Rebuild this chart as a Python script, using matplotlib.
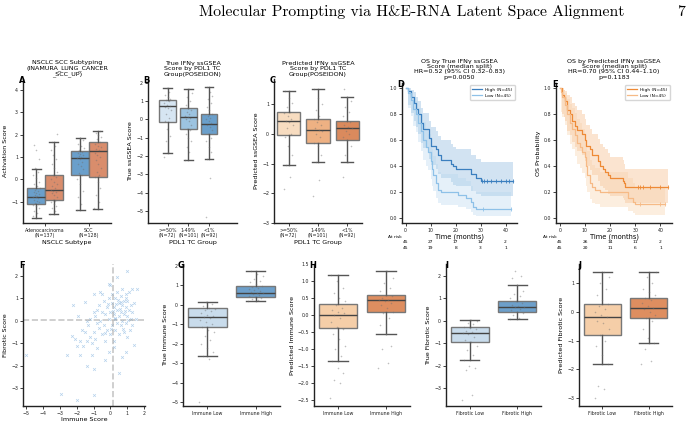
import numpy as np
import matplotlib
matplotlib.use("Agg")
from matplotlib import pyplot as plt
from matplotlib import transforms
from matplotlib.lines import Line2D

W, H = 691, 426

# ---- box summaries (whislo, q1, med, q3, whishi) ----
a_groups = ["Adenocarcinoma\n(N=137)", "SCC\n(N=128)"]
a_true_stats = [(-1.71, -1.08, -0.79, -0.39, 0.49), (-1.37, 0.21, 0.95, 1.29, 1.87)]
a_pred_stats = [(-1.56, -0.94, -0.46, 0.19, 1.69), (-1.31, 0.13, 1.29, 1.69, 2.18)]
a_true_pts = [
    [-1.65, -1.5, -1.4, -1.3, -1.2, -1.15, -1.1, -1.05, -1.0, -0.95, -0.9, -0.85, -0.8, -0.8, -0.75, -0.7,
     -0.65, -0.6, -0.55, -0.5, -0.45, -0.4, -0.3, -0.2, -0.1, 0.05, 0.2, 0.35, 0.5, 0.9, 1.3, 1.55],
    [-1.35, -1.1, -0.8, -0.5, -0.2, 0.0, 0.2, 0.3, 0.45, 0.6, 0.7, 0.8, 0.9, 0.95, 1.0, 1.05, 1.1, 1.15,
     1.2, 1.25, 1.3, 1.4, 1.5, 1.6, 1.75, 1.87],
]
a_pred_pts = [
    [-1.55, -1.4, -1.3, -1.2, -1.1, -1.0, -0.95, -0.9, -0.8, -0.7, -0.6, -0.55, -0.5, -0.45, -0.4, -0.3,
     -0.2, -0.1, 0.0, 0.1, 0.2, 0.35, 0.5, 0.7, 0.9, 1.1, 1.3, 1.5, 1.7, 2.05],
    [-1.3, -1.0, -0.7, -0.4, -0.1, 0.1, 0.2, 0.35, 0.5, 0.7, 0.85, 1.0, 1.1, 1.2, 1.3, 1.35, 1.45, 1.5,
     1.6, 1.7, 1.8, 1.9, 2.0, 2.1, 2.18],
]

pdl1_groups = [">=50%\n(N=72)", "1-49%\n(N=101)", "<1%\n(N=92)"]
b_stats = [(-1.83, -0.12, 0.72, 1.05, 1.7), (-2.2, -0.55, 0.15, 0.6, 1.65), (-2.15, -0.8, -0.25, 0.3, 1.75)]
b_pts = [
    [-2.05, -1.8, -1.2, -0.9, -0.5, -0.1, 0.1, 0.3, 0.5, 0.6, 0.7, 0.75, 0.8, 0.9, 1.0, 1.05, 1.1, 1.2,
     1.35, 1.5, 1.7],
    [-2.2, -1.8, -1.5, -1.2, -1.0, -0.8, -0.6, -0.5, -0.3, -0.1, 0.0, 0.1, 0.15, 0.2, 0.3, 0.4, 0.5, 0.6,
     0.8, 1.0, 1.2, 1.45, 1.65],
    [-5.3, -3.2, -2.15, -1.8, -1.5, -1.2, -1.0, -0.8, -0.6, -0.4, -0.3, -0.2, -0.1, 0.0, 0.1, 0.2, 0.3,
     0.5, 0.7, 0.9, 1.1, 1.3, 1.5, 1.75],
]
c_stats = [(-1.05, -0.05, 0.45, 0.75, 1.45), (-0.95, -0.3, 0.12, 0.5, 1.5), (-0.95, -0.2, 0.2, 0.45, 1.25)]
c_pts = [
    [-1.85, -1.45, -1.05, -0.7, -0.4, -0.1, 0.0, 0.2, 0.3, 0.4, 0.45, 0.5, 0.6, 0.7, 0.75, 0.9, 1.05, 1.2, 1.45],
    [-2.1, -1.55, -0.95, -0.7, -0.4, -0.3, -0.1, 0.0, 0.1, 0.12, 0.2, 0.3, 0.4, 0.5, 0.6, 0.8, 1.0, 1.2, 1.5],
    [-1.45, -0.95, -0.7, -0.4, -0.2, -0.1, 0.0, 0.1, 0.2, 0.25, 0.3, 0.4, 0.45, 0.6, 0.75, 0.9, 1.1, 1.25, 1.5],
]

immune_groups = ["Immune Low", "Immune High"]
fibrotic_groups = ["Fibrotic Low", "Fibrotic High"]
g_stats = [(-2.65, -1.15, -0.6, -0.15, 0.15), (0.18, 0.42, 0.62, 0.97, 1.75)]
g_pts = [
    [-5.0, -2.8, -2.65, -2.4, -2.2, -2.0, -1.8, -1.6, -1.4, -1.3, -1.15, -1.0, -0.9, -0.8, -0.7, -0.6,
     -0.55, -0.5, -0.4, -0.3, -0.25, -0.2, -0.15, -0.05, 0.05, 0.15],
    [0.18, 0.25, 0.3, 0.35, 0.4, 0.45, 0.5, 0.55, 0.6, 0.62, 0.65, 0.7, 0.75, 0.8, 0.85, 0.9, 0.95, 1.05,
     1.15, 1.25, 1.35, 1.5, 1.6, 1.75],
]
h_stats = [(-1.35, -0.38, 0.0, 0.32, 1.18), (-0.55, 0.08, 0.43, 0.6, 1.28)]
h_pts = [
    [-2.45, -2.0, -1.9, -1.7, -1.55, -1.35, -1.2, -1.0, -0.9, -0.7, -0.55, -0.4, -0.35, -0.2, -0.1, 0.0,
     0.05, 0.1, 0.15, 0.2, 0.3, 0.4, 0.5, 0.65, 0.8, 1.0, 1.18],
    [-1.55, -1.4, -1.0, -0.9, -0.55, -0.3, -0.1, 0.05, 0.1, 0.2, 0.3, 0.35, 0.4, 0.43, 0.45, 0.5, 0.55,
     0.6, 0.7, 0.8, 0.95, 1.1, 1.28],
]
i_stats = [(-1.75, -0.95, -0.55, -0.25, 0.05), (0.08, 0.38, 0.62, 0.88, 1.6)]
i_pts = [
    [-3.5, -3.3, -2.2, -2.1, -2.0, -1.75, -1.5, -1.3, -1.1, -0.95, -0.85, -0.7, -0.6, -0.55, -0.5, -0.45,
     -0.35, -0.3, -0.25, -0.15, -0.1, 0.0, 0.05],
    [0.08, 0.15, 0.25, 0.35, 0.4, 0.5, 0.55, 0.6, 0.62, 0.65, 0.7, 0.8, 0.9, 1.0, 1.1, 1.2, 1.35, 1.6,
     1.9, 2.0, 2.2],
]
j_stats = [(-1.82, -0.82, -0.18, 0.27, 1.38), (-1.1, -0.22, 0.15, 0.48, 1.4)]
j_pts = [
    [-3.0, -2.7, -2.6, -1.82, -1.5, -1.2, -1.0, -0.82, -0.6, -0.4, -0.3, -0.18, -0.1, 0.0, 0.1, 0.2,
     0.27, 0.4, 0.6, 0.8, 1.0, 1.2, 1.38],
    [-1.8, -1.7, -1.3, -1.1, -0.9, -0.6, -0.3, -0.22, -0.1, 0.0, 0.1, 0.15, 0.2, 0.3, 0.4, 0.48, 0.6,
     0.7, 0.8, 1.0, 1.2, 1.4],
]

# ---- scatter F ----
immune_score = [-5.0, -2.9, -2.0, -1.0, -1.0, -1.4, 1.0, 0.4, -2.2, 0.5, -0.1, 0.0, -2.6, -1.8, -1.1, 0.9,
                -0.3, -0.1, 0.7, -2.3, -2.1, -2.0, -1.9, -1.8, -1.7, -1.6, -1.5, -1.5, -1.4, -1.3, -1.2,
                -1.2, -1.1, -1.0, -1.0, -1.0, -0.9, -0.9, -0.8, -0.8, -0.7, -0.7, -0.6, -0.6, -0.5, -0.5,
                -0.4, -0.4, -0.3, -0.3, -0.2, -0.2, -0.1, -0.1, 0.0, 0.0, 0.1, 0.1, 0.1, 0.2, 0.2, 0.2,
                0.3, 0.3, 0.3, 0.4, 0.4, 0.4, 0.5, 0.5, 0.5, 0.6, 0.6, 0.6, 0.7, 0.7, 0.7, 0.8, 0.8, 0.8,
                0.9, 0.9, 0.9, 1.0, 1.0, 1.0, 1.1, 1.1, 1.2, 1.2, 1.3, 1.3, 1.3, 1.4, 1.5, 1.6, 1.4, 0.2,
                -0.5, -1.4, -0.8, 0.35, 0.15, 0.55, 0.25, -0.15, 0.45, 0.65, 0.85, 0.05, -0.35, 0.75,
                1.05, 1.15, 0.95]
fibrotic_score = [-1.5, -3.25, -3.5, -3.3, -2.15, -2.0, 2.2, 1.95, 0.7, -2.3, 1.65, 1.6, -1.5, -1.5, -1.5,
                  -1.4, -1.75, -1.4, -1.6, -0.65, -0.8, -1.1, 0.2, -0.9, -0.4, -1.1, 0.85, -0.5, -0.9,
                  -0.2, 0.1, -0.7, -1.0, 1.2, 0.4, -0.5, 0.2, -0.8, -1.2, 0.5, 0.7, -0.3, 1.3, 0.0, -0.6,
                  0.4, 0.9, -0.2, 0.3, -0.9, 0.6, -0.4, 0.1, 1.0, -0.6, 0.4, 0.8, -0.2, 1.2, 0.3, -0.9,
                  0.6, 1.0, 0.1, -0.4, 0.5, 1.3, -0.1, 0.8, 0.2, -0.6, 1.1, 0.4, -0.2, 0.7, 0.0, 1.4, 0.3,
                  0.9, -0.5, 0.6, 1.2, -0.1, 0.2, 0.9, -0.7, 0.5, 1.3, 0.1, 0.7, -0.2, 0.4, 1.4, 0.8, 0.1,
                  1.4, -1.05, -1.15, 1.2, 0.0, -0.1, 0.75, 0.45, 0.55, 0.15, 0.75, 0.95, 0.85, 0.45,
                  -0.35, -0.55, -0.35, 0.05, -0.4, 1.0]
immune_median = 0.18
fibrotic_median = 0.05

# ---- Kaplan-Meier (time, survival, ci low, ci high) ----
d_high_t = [0, 1, 2, 3.5, 4, 5, 6, 7, 9.5, 10, 12, 13, 14, 18, 19, 20, 26, 28, 30, 43]
d_high_s = [1.0, 0.98, 0.93, 0.89, 0.84, 0.80, 0.73, 0.69, 0.62, 0.56, 0.53, 0.49, 0.45, 0.42, 0.40, 0.38,
            0.34, 0.31, 0.29, 0.29]
d_high_lo = [1.0, 0.87, 0.81, 0.75, 0.70, 0.65, 0.58, 0.54, 0.46, 0.41, 0.38, 0.34, 0.31, 0.28, 0.26, 0.25,
             0.21, 0.19, 0.17, 0.17]
d_high_hi = [1.0, 1.0, 0.99, 0.97, 0.93, 0.90, 0.85, 0.81, 0.75, 0.70, 0.67, 0.63, 0.60, 0.57, 0.55, 0.53,
             0.49, 0.46, 0.43, 0.43]
d_high_cens = [30.5, 31.5, 32.5, 34, 36, 38, 40, 41.5, 43]
d_low_t = [0, 1, 2, 3, 4, 5, 6, 7, 8, 9, 10, 10.5, 11, 12, 13, 14, 21, 24, 26, 27, 28, 42]
d_low_s = [1.0, 0.96, 0.91, 0.84, 0.80, 0.73, 0.67, 0.60, 0.55, 0.51, 0.44, 0.38, 0.33, 0.27, 0.22, 0.20,
           0.18, 0.16, 0.13, 0.09, 0.07, 0.07]
d_low_lo = [1.0, 0.85, 0.79, 0.71, 0.66, 0.59, 0.52, 0.45, 0.40, 0.37, 0.30, 0.25, 0.21, 0.16, 0.12, 0.10,
            0.09, 0.07, 0.05, 0.03, 0.02, 0.02]
d_low_hi = [1.0, 0.99, 0.97, 0.93, 0.90, 0.85, 0.80, 0.74, 0.69, 0.65, 0.59, 0.53, 0.48, 0.42, 0.36, 0.34,
            0.31, 0.29, 0.25, 0.21, 0.20, 0.20]
d_low_cens = [31, 42]

e_high_t = [0, 1, 1.5, 2, 3, 4, 5, 6, 7, 9, 10, 10.5, 12, 13, 15, 16, 17, 18, 19, 20, 25, 25.5, 26, 43]
e_high_s = [1.0, 0.95, 0.93, 0.90, 0.83, 0.80, 0.75, 0.71, 0.68, 0.65, 0.60, 0.56, 0.53, 0.49, 0.44, 0.40,
            0.38, 0.36, 0.33, 0.31, 0.29, 0.27, 0.245, 0.245]
e_high_lo = [1.0, 0.80, 0.78, 0.75, 0.67, 0.64, 0.59, 0.55, 0.52, 0.49, 0.44, 0.40, 0.37, 0.33, 0.29, 0.25,
             0.23, 0.22, 0.19, 0.17, 0.16, 0.14, 0.12, 0.12]
e_high_hi = [1.0, 1.0, 0.99, 0.98, 0.95, 0.93, 0.89, 0.86, 0.83, 0.80, 0.76, 0.72, 0.69, 0.65, 0.61, 0.57,
             0.55, 0.53, 0.50, 0.47, 0.45, 0.42, 0.38, 0.38]
e_high_cens = [31, 32, 33, 36, 40, 43]
e_low_t = [0, 0.5, 1, 2, 3, 4, 5, 6, 7, 8, 9, 10, 10.5, 11, 12, 13, 14, 16, 27, 29, 30, 42]
e_low_s = [1.0, 0.97, 0.93, 0.87, 0.80, 0.73, 0.69, 0.64, 0.58, 0.55, 0.51, 0.47, 0.40, 0.33, 0.27, 0.24,
           0.22, 0.20, 0.16, 0.13, 0.11, 0.11]
e_low_lo = [1.0, 0.82, 0.78, 0.72, 0.64, 0.57, 0.53, 0.48, 0.42, 0.39, 0.35, 0.31, 0.25, 0.20, 0.15, 0.12,
            0.11, 0.09, 0.06, 0.04, 0.03, 0.03]
e_low_hi = [1.0, 1.0, 0.99, 0.96, 0.92, 0.88, 0.85, 0.81, 0.76, 0.73, 0.69, 0.65, 0.59, 0.52, 0.45, 0.41,
            0.39, 0.36, 0.31, 0.27, 0.24, 0.24]
e_low_cens = [32, 40, 42]

at_risk_ticks = [0, 10, 20, 30, 40]
d_at_risk = [[45, 27, 17, 14, 2], [45, 19, 8, 3, 1]]
e_at_risk = [[45, 26, 14, 11, 2], [45, 20, 11, 6, 1]]

plt.rcParams["font.family"] = "DejaVu Sans"
plt.rcParams["axes.unicode_minus"] = True

fig = plt.figure(figsize=(W / 100, H / 100), dpi=100)
fig.patch.set_facecolor("white")


def px_axes(l, t, r, b):
    return fig.add_axes([l / W, 1 - b / H, (r - l) / W, (b - t) / H])


def style_axes(ax, letter):
    for s in ("top", "right"):
        ax.spines[s].set_visible(False)
    for s in ("left", "bottom"):
        ax.spines[s].set_linewidth(1.0)
        ax.spines[s].set_color("#222222")
    ax.tick_params(labelsize=3.4, length=2, width=0.6, pad=1.5, colors="#222222")
    pos = ax.get_position()
    fig.text(pos.x0 + 2 / W, pos.y1 - 1.5 / H, letter, fontsize=6, fontweight="bold",
             ha="right", va="center")


def draw_boxes(ax, stats, positions, width, colors, points, jitter):
    bx = [dict(whislo=s[0], q1=s[1], med=s[2], q3=s[3], whishi=s[4]) for s in stats]
    art = ax.bxp(bx, positions=positions, widths=width, patch_artist=True, showfliers=False,
                 boxprops=dict(edgecolor="#777777", linewidth=1.0),
                 medianprops=dict(color="#444444", linewidth=1.0),
                 whiskerprops=dict(color="#555555", linewidth=1.0),
                 capprops=dict(color="#555555", linewidth=1.0), manage_ticks=False)
    for patch, c in zip(art["boxes"], colors):
        patch.set_facecolor(c)
    for p, vals in zip(positions, points):
        off = ((np.arange(len(vals)) * 0.618034) % 1 - 0.5) * jitter
        ax.scatter(p + off, vals, s=1.3, color="#707070", alpha=0.45, linewidths=0, zorder=5)


def box_panel(box, letter, stats, pts, colors, labels, ylabel, ylim, title=None, xlabel=None,
              xlim=(-0.5, None)):
    ax = px_axes(*box)
    n = len(stats)
    draw_boxes(ax, stats, list(range(n)), 0.8, colors, pts, 0.32)
    ax.set_xticks(range(n))
    ax.set_xticklabels(labels, fontsize=3.2, linespacing=1.1)
    ax.set_xlim(xlim[0], xlim[1] if xlim[1] is not None else n - 0.5)
    ax.set_ylim(*ylim)
    ax.set_ylabel(ylabel, fontsize=4.6, labelpad=2)
    if xlabel:
        ax.set_xlabel(xlabel, fontsize=4.6, labelpad=1)
    if title:
        ax.set_title(title, fontsize=4.6, pad=2.5, linespacing=1.1)
    style_axes(ax, letter)
    return ax


# ---- A ----
axA = px_axes(23, 79, 111, 223)
draw_boxes(axA, a_true_stats, [-0.2, 0.8], 0.4, ["#6a9fcb"] * 2, a_true_pts, 0.16)
draw_boxes(axA, a_pred_stats, [0.2, 1.2], 0.4, ["#d98d6c"] * 2, a_pred_pts, 0.16)
axA.set_xticks([0, 1])
axA.set_xticklabels(a_groups, fontsize=3.2, linespacing=1.1)
axA.set_xlim(-0.5, 1.5)
axA.set_ylim(-1.95, 4.5)
axA.set_yticks([-1, 0, 1, 2, 3, 4])
axA.set_ylabel("Activation Score", fontsize=4.6, labelpad=2)
axA.set_xlabel("NSCLC Subtype", fontsize=4.6, labelpad=1)
axA.set_title("NSCLC SCC Subtyping\n(INAMURA_LUNG_CANCER\n_SCC_UP)", fontsize=4.6, pad=2.5, linespacing=1.1)
style_axes(axA, "A")

# ---- B, C ----
box_panel((148, 79, 237, 223), "B", b_stats, b_pts, ["#d6e5f2", "#9cc3e0", "#6a9fcb"], pdl1_groups,
          "True ssGSEA Score", (-5.65, 2.2), "True IFNγ ssGSEA\nScore by PDL1 TC\nGroup(POSEIDON)",
          "PDL1 TC Group", xlim=(-0.94, 3.34))
box_panel((274, 79, 362, 223), "C", c_stats, c_pts, ["#f7dcc0", "#eeb183", "#da8a5d"], pdl1_groups,
          "Predicted ssGSEA Score", (-3.0, 1.85), "Predicted IFNγ ssGSEA\nScore by PDL1 TC\nGroup(POSEIDON)",
          "PDL1 TC Group")


# ---- D, E ----
def km_panel(box, letter, curves, at_risk, title, ylabel, risk_x):
    ax = px_axes(*box)
    for t, s, lo, hi, cens, col, fill, lab in curves:
        ax.fill_between(t, lo, hi, step="post", color=fill, alpha=0.35, linewidth=0)
        ax.step(t, s, where="post", color=col, linewidth=0.9)
        cs = [s[np.searchsorted(t, c, side="right") - 1] for c in cens]
        ax.plot(cens, cs, "|", color=col, markersize=2.2, markeredgewidth=0.6)
    handles = [Line2D([], [], color=c[5], linewidth=0.9) for c in curves]
    ax.legend(handles, [c[7] for c in curves], loc="upper right", fontsize=3.2, handlelength=2.2,
              frameon=True, borderpad=0.5, labelspacing=0.5, framealpha=0.8, edgecolor="#cccccc")
    ax.set_xlim(-1.5, 44.6)
    ax.set_ylim(-0.035, 1.04)
    ax.set_xticks(at_risk_ticks)
    ax.set_yticks([0.0, 0.2, 0.4, 0.6, 0.8, 1.0])
    ax.yaxis.set_major_formatter(matplotlib.ticker.FormatStrFormatter("%.1f"))
    ax.set_xlabel("Time (months)", fontsize=4.8, labelpad=0.5)
    if ylabel:
        ax.set_ylabel(ylabel, fontsize=4.6, labelpad=2)
    ax.set_title(title, fontsize=4.6, pad=3, linespacing=1.1)
    style_axes(ax, letter)
    tr = transforms.blended_transform_factory(ax.transData, fig.transFigure)
    fig.text(risk_x / W, 1 - 237 / H, "At risk", fontsize=3.2, ha="left", va="center")
    for row, ypx in zip(at_risk, (242.5, 248)):
        for xt, v in zip(at_risk_ticks, row):
            ax.text(xt, 1 - ypx / H, str(v), transform=tr, fontsize=3.2, ha="center", va="center")
    return ax


km_panel((402, 83, 517, 223), "D",
         [(d_high_t, d_high_s, d_high_lo, d_high_hi, d_high_cens, "#3b7fbf", "#7fb1dc", "High (N=45)"),
          (d_low_t, d_low_s, d_low_lo, d_low_hi, d_low_cens, "#8ec1e8", "#b5d6ef", "Low (N=45)")],
         d_at_risk, "OS by True IFNγ ssGSEA\nScore (median split)\nHR=0.52 (95% CI 0.32–0.83)\np=0.0050",
         None, 388)
km_panel((556, 83, 672, 223), "E",
         [(e_high_t, e_high_s, e_high_lo, e_high_hi, e_high_cens, "#ee8a36", "#f4b27a", "High (N=45)"),
          (e_low_t, e_low_s, e_low_lo, e_low_hi, e_low_cens, "#f6ba86", "#f8cfa6", "Low (N=45)")],
         e_at_risk, "OS by Predicted IFNγ ssGSEA\nScore (median split)\nHR=0.70 (95% CI 0.44–1.10)\np=0.1183",
         "OS Probability", 543)

# ---- F ----
axF = px_axes(23, 264, 145, 406)
axF.scatter(immune_score, fibrotic_score, marker="x", s=4, color="#9dc2e6", alpha=0.75, linewidths=0.5)
axF.axvline(immune_median, color="#999999", linestyle="--", linewidth=1.2, alpha=0.55)
axF.axhline(fibrotic_median, color="#999999", linestyle="--", linewidth=1.2, alpha=0.55)
axF.set_xlim(-5.18, 2.05)
axF.set_ylim(-3.78, 2.53)
axF.set_xticks([-5, -4, -3, -2, -1, 0, 1, 2])
axF.set_yticks([-3, -2, -1, 0, 1, 2])
axF.set_xlabel("Immune Score", fontsize=4.6, labelpad=1)
axF.set_ylabel("Fibrotic Score", fontsize=4.6, labelpad=2)
style_axes(axF, "F")

# ---- G-J ----
box_panel((183, 264, 280, 406), "G", g_stats, g_pts, ["#c9dcec", "#6d9fca"], immune_groups,
          "True Immune Score", (-5.2, 2.1))
box_panel((314, 264, 410, 406), "H", h_stats, h_pts, ["#f5cea8", "#de8e60"], immune_groups,
          "Predicted Immune Score", (-2.68, 1.5))
box_panel((446, 264, 541, 406), "I", i_stats, i_pts, ["#c9dcec", "#6d9fca"], fibrotic_groups,
          "True Fibrotic Score", (-3.78, 2.53))
box_panel((579, 264, 672, 406), "J", j_stats, j_pts, ["#f5cea8", "#de8e60"], fibrotic_groups,
          "Predicted Fibrotic Score", (-3.28, 1.67))

# ---- page header ----
fig.text(412 / W, 1 - 12 / H, "Molecular Prompting via H&E-RNA Latent Space Alignment",
         family="cmr10", fontsize=11.3, ha="center", va="center")
fig.text(681 / W, 1 - 12 / H, "7", family="cmr10", fontsize=11.3, ha="center", va="center")

fig.savefig("out.png", dpi=100, facecolor="white")
